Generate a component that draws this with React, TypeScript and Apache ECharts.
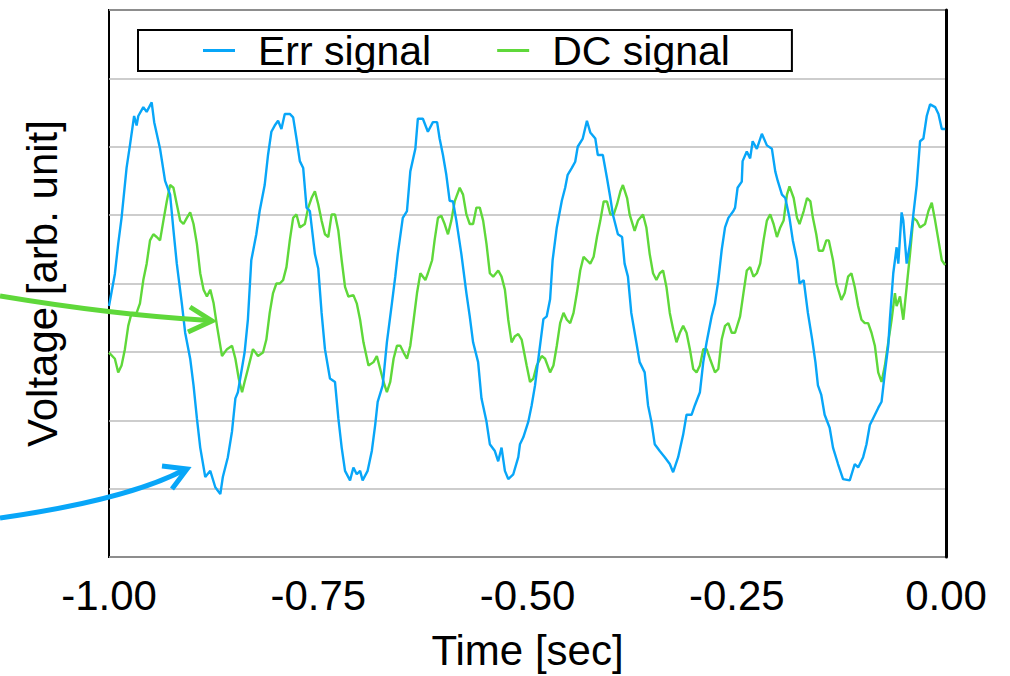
import React, { useEffect, useRef } from "react";
import * as echarts from "echarts";

// Time axis ticks
const xTicks = [-1.0, -0.75, -0.5, -0.25, 0.0];

// Err signal (blue): time [sec]
const errT = [
  -1.000, -0.993, -0.989, -0.985, -0.979, -0.975, -0.970, -0.967, -0.965, -0.959, -0.955, -0.949, -0.946, -0.939, -0.933, -0.927, -0.923, -0.919, -0.913, -0.909,
  -0.903, -0.899, -0.895, -0.891, -0.885, -0.879, -0.873, -0.867, -0.864, -0.858, -0.853, -0.849, -0.846, -0.838, -0.834, -0.830, -0.824, -0.820, -0.814, -0.810,
  -0.806, -0.802, -0.798, -0.794, -0.790, -0.784, -0.780, -0.776, -0.772, -0.768, -0.764, -0.760, -0.754, -0.750, -0.746, -0.742, -0.736, -0.730, -0.726, -0.722,
  -0.718, -0.712, -0.708, -0.704, -0.700, -0.697, -0.691, -0.686, -0.682, -0.679, -0.673, -0.668, -0.662, -0.658, -0.655, -0.649, -0.644, -0.640, -0.634, -0.631,
  -0.625, -0.619, -0.613, -0.608, -0.605, -0.601, -0.597, -0.593, -0.589, -0.585, -0.579, -0.573, -0.569, -0.565, -0.559, -0.555, -0.549, -0.545, -0.539, -0.535,
  -0.531, -0.527, -0.523, -0.517, -0.511, -0.509, -0.505, -0.499, -0.495, -0.491, -0.487, -0.481, -0.477, -0.473, -0.470, -0.465, -0.459, -0.455, -0.452, -0.447,
  -0.443, -0.440, -0.434, -0.429, -0.425, -0.419, -0.416, -0.410, -0.405, -0.401, -0.398, -0.392, -0.387, -0.384, -0.380, -0.376, -0.370, -0.366, -0.360, -0.356,
  -0.352, -0.348, -0.342, -0.336, -0.330, -0.326, -0.320, -0.314, -0.310, -0.304, -0.300, -0.294, -0.290, -0.286, -0.280, -0.276, -0.272, -0.268, -0.264, -0.260,
  -0.254, -0.252, -0.249, -0.244, -0.243, -0.238, -0.234, -0.231, -0.226, -0.220, -0.214, -0.208, -0.204, -0.201, -0.196, -0.192, -0.187, -0.183, -0.178, -0.175,
  -0.170, -0.165, -0.160, -0.156, -0.153, -0.149, -0.145, -0.139, -0.135, -0.129, -0.123, -0.115, -0.109, -0.105, -0.099, -0.095, -0.091, -0.087, -0.081, -0.077,
  -0.073, -0.069, -0.067, -0.063, -0.059, -0.057, -0.053, -0.051, -0.047, -0.043, -0.039, -0.035, -0.031, -0.027, -0.023, -0.019, -0.013, -0.009, -0.005, -0.001,
];
// Err signal (blue): voltage [arb. unit]
const errV = [
  3.67, 4.14, 4.58, 4.96, 5.69, 6.02, 6.45, 6.31, 6.45, 6.58, 6.51, 6.65, 6.36, 5.97, 5.50, 5.30, 4.78, 4.29, 3.71, 3.28,
  2.90, 2.51, 2.03, 1.60, 1.17, 1.26, 1.02, 0.92, 1.17, 1.46, 1.84, 2.32, 2.41, 2.99, 3.48, 4.34, 4.72, 5.06, 5.44, 5.88,
  6.22, 6.31, 6.38, 6.26, 6.48, 6.48, 6.43, 6.12, 5.79, 5.69, 5.11, 5.06, 4.43, 4.22, 3.57, 3.04, 2.61, 2.56, 2.03, 1.60,
  1.26, 1.12, 1.31, 1.21, 1.26, 1.12, 1.26, 1.55, 1.93, 2.27, 2.51, 3.14, 3.71, 4.10, 4.43, 4.96, 5.06, 5.64, 5.97, 6.41,
  6.41, 6.22, 6.36, 6.36, 6.12, 5.88, 5.59, 5.21, 5.20, 4.92, 4.43, 3.86, 3.52, 3.14, 2.85, 2.32, 1.98, 1.65, 1.55, 1.40,
  1.60, 1.26, 1.14, 1.21, 1.46, 1.65, 1.75, 1.98, 2.22, 2.51, 2.90, 3.48, 3.52, 3.77, 4.34, 4.82, 5.21, 5.40, 5.59, 5.69,
  5.78, 6.00, 6.12, 6.38, 6.21, 6.12, 5.88, 5.88, 5.54, 5.25, 5.01, 4.72, 4.68, 4.29, 4.10, 3.57, 3.14, 2.85, 2.70, 2.22,
  1.98, 1.65, 1.55, 1.46, 1.36, 1.24, 1.46, 1.79, 2.08, 2.08, 2.22, 2.41, 2.85, 3.14, 3.52, 3.71, 4.05, 4.49, 4.82, 4.96,
  5.06, 5.11, 5.40, 5.49, 5.79, 5.93, 5.83, 6.08, 5.97, 6.19, 6.02, 5.97, 5.64, 5.50, 5.30, 5.25, 4.96, 4.63, 4.34, 4.00,
  4.05, 3.57, 3.19, 2.85, 2.51, 2.37, 2.08, 1.89, 1.60, 1.36, 1.14, 1.12, 1.36, 1.31, 1.46, 1.65, 1.93, 2.03, 2.18, 2.27,
  2.70, 3.09, 3.48, 4.15, 4.53, 4.29, 5.04, 4.92, 4.29, 4.58, 5.01, 5.44, 6.08, 6.12, 6.45, 6.62, 6.58, 6.48, 6.26, 6.26,
];

// DC signal (green): time [sec]
const dcT = [
  -1.000, -0.993, -0.989, -0.985, -0.981, -0.977, -0.973, -0.967, -0.963, -0.959, -0.955, -0.951, -0.947, -0.943, -0.939, -0.935, -0.931, -0.927, -0.923, -0.919,
  -0.915, -0.911, -0.907, -0.903, -0.899, -0.895, -0.891, -0.887, -0.883, -0.879, -0.875, -0.871, -0.865, -0.859, -0.853, -0.849, -0.845, -0.841, -0.838, -0.834,
  -0.828, -0.822, -0.816, -0.812, -0.808, -0.804, -0.800, -0.796, -0.792, -0.788, -0.784, -0.780, -0.776, -0.772, -0.766, -0.762, -0.758, -0.754, -0.750, -0.746,
  -0.742, -0.738, -0.734, -0.730, -0.726, -0.722, -0.718, -0.714, -0.708, -0.704, -0.700, -0.696, -0.690, -0.684, -0.680, -0.676, -0.672, -0.668, -0.664, -0.660,
  -0.656, -0.652, -0.648, -0.644, -0.640, -0.636, -0.632, -0.628, -0.622, -0.619, -0.614, -0.611, -0.607, -0.603, -0.599, -0.595, -0.591, -0.587, -0.581, -0.577,
  -0.573, -0.569, -0.565, -0.561, -0.557, -0.553, -0.549, -0.545, -0.541, -0.535, -0.531, -0.527, -0.523, -0.519, -0.515, -0.511, -0.507, -0.501, -0.497, -0.493,
  -0.489, -0.483, -0.479, -0.473, -0.469, -0.465, -0.461, -0.457, -0.453, -0.449, -0.445, -0.441, -0.437, -0.433, -0.429, -0.425, -0.421, -0.417, -0.413, -0.409,
  -0.405, -0.401, -0.397, -0.393, -0.389, -0.386, -0.381, -0.378, -0.372, -0.368, -0.362, -0.358, -0.354, -0.350, -0.346, -0.342, -0.338, -0.334, -0.330, -0.326,
  -0.322, -0.318, -0.314, -0.310, -0.306, -0.302, -0.298, -0.294, -0.290, -0.286, -0.282, -0.276, -0.272, -0.268, -0.264, -0.260, -0.256, -0.252, -0.246, -0.242,
  -0.238, -0.234, -0.230, -0.226, -0.222, -0.218, -0.214, -0.210, -0.206, -0.202, -0.198, -0.194, -0.190, -0.187, -0.182, -0.178, -0.175, -0.170, -0.166, -0.162,
  -0.159, -0.155, -0.152, -0.147, -0.143, -0.140, -0.135, -0.131, -0.125, -0.121, -0.117, -0.113, -0.109, -0.105, -0.101, -0.097, -0.093, -0.089, -0.085, -0.081,
  -0.077, -0.073, -0.069, -0.065, -0.061, -0.059, -0.055, -0.051, -0.047, -0.043, -0.039, -0.035, -0.031, -0.025, -0.021, -0.017, -0.013, -0.009, -0.005, -0.001,
];
// DC signal (green): voltage [arb. unit]
const dcV = [
  2.99, 2.90, 2.70, 2.80, 3.04, 3.38, 3.57, 3.57, 3.71, 4.05, 4.29, 4.63, 4.72, 4.68, 4.63, 4.92, 5.20, 5.44, 5.40, 5.16,
  4.92, 4.87, 4.96, 5.04, 4.87, 4.58, 4.15, 3.91, 3.81, 3.91, 3.71, 3.38, 2.94, 3.04, 3.09, 2.90, 2.61, 2.41, 2.56, 2.75,
  3.04, 2.94, 2.99, 3.18, 3.57, 3.86, 4.00, 4.00, 4.05, 4.24, 4.63, 4.96, 5.01, 4.82, 4.87, 5.11, 5.25, 5.35, 5.16, 4.92,
  4.72, 4.68, 5.01, 5.01, 4.77, 4.34, 3.95, 3.81, 3.83, 3.71, 3.47, 3.14, 2.80, 2.85, 2.94, 2.75, 2.56, 2.41, 2.56, 2.90,
  3.09, 3.09, 2.99, 2.90, 3.09, 3.47, 3.86, 4.15, 4.05, 4.15, 4.34, 4.63, 4.96, 4.99, 4.87, 4.72, 4.92, 5.20, 5.40, 5.30,
  5.01, 4.87, 4.87, 5.11, 5.11, 4.92, 4.58, 4.15, 4.10, 4.19, 4.10, 3.91, 3.47, 3.14, 3.23, 3.26, 3.18, 2.80, 2.56, 2.61,
  2.80, 2.94, 2.90, 2.70, 2.80, 3.09, 3.42, 3.57, 3.47, 3.42, 3.57, 3.86, 4.19, 4.39, 4.34, 4.29, 4.39, 4.68, 4.92, 5.20,
  5.20, 5.01, 5.01, 5.16, 5.35, 5.44, 5.25, 5.01, 4.77, 4.92, 5.01, 4.82, 4.43, 4.15, 4.05, 4.15, 4.19, 3.95, 3.57, 3.33,
  3.14, 3.28, 3.38, 3.28, 3.04, 2.75, 2.70, 2.80, 3.04, 3.04, 2.90, 2.70, 2.75, 3.18, 3.38, 3.42, 3.28, 3.28, 3.52, 3.86,
  4.19, 4.24, 4.10, 4.15, 4.29, 4.63, 4.92, 5.01, 4.87, 4.68, 4.82, 4.92, 5.30, 5.42, 5.25, 4.96, 4.87, 5.06, 5.25, 5.20,
  4.96, 4.72, 4.48, 4.48, 4.63, 4.63, 4.34, 4.00, 3.76, 3.86, 4.10, 4.15, 3.95, 3.67, 3.47, 3.42, 3.42, 3.28, 3.09, 2.70,
  2.56, 2.80, 3.14, 3.47, 3.86, 3.67, 3.81, 3.47, 3.95, 4.43, 4.96, 4.92, 4.82, 4.87, 5.06, 5.18, 4.92, 4.63, 4.34, 4.27,
];

const seriesNames = ["Err signal", "DC signal"];
const BLUE = "#08a6f8";
const GREEN = "#5fd83a";
const FONT = "'Liberation Sans', Arial, sans-serif";
const FS = 42;

export default function App() {
  const ref = useRef<HTMLDivElement>(null);
  useEffect(() => {
    if (!ref.current) return;
    const chart = echarts.init(ref.current, undefined, { renderer: "svg" });
    const errData = errT.map((t, i) => [t, errV[i]]);
    const dcData = dcT.map((t, i) => [t, dcV[i]]);
    chart.setOption({
      animation: false,
      backgroundColor: "#fff",
      textStyle: { fontFamily: FONT },
      grid: {
        left: 109,
        right: 64,
        top: 10,
        bottom: 112,
        show: true,
        borderColor: "#000",
        borderWidth: 2,
        backgroundColor: "transparent",
      },
      legend: {
        data: seriesNames,
        left: 138,
        top: 30,
        orient: "horizontal",
        icon: "rect",
        itemWidth: 32,
        itemHeight: 3,
        itemGap: 66,
        padding: [0, 62, 0, 65],
        borderColor: "#000",
        borderWidth: 2,
        backgroundColor: "#fff",
        textStyle: { fontSize: 41, color: "#000", fontFamily: FONT, padding: [0, 0, 0, 18] },
      },
      xAxis: {
        type: "value",
        min: xTicks[0],
        max: xTicks[xTicks.length - 1],
        interval: 0.25,
        axisLine: { show: false },
        axisTick: { show: false },
        splitLine: { show: false },
        axisLabel: {
          fontSize: FS,
          color: "#000",
          margin: 17,
          fontFamily: FONT,
          formatter: (v: number) => v.toFixed(2),
          showMinLabel: true,
          showMaxLabel: true,
        },
        name: "Time [sec]",
        nameLocation: "middle",
        nameGap: 72,
        nameTextStyle: { fontSize: FS, color: "#000", fontFamily: FONT },
      },
      yAxis: {
        type: "value",
        min: 0,
        max: 8,
        interval: 1,
        axisLine: { show: true, lineStyle: { color: "#000", width: 3 } },
        axisTick: { show: false },
        axisLabel: { show: false },
        splitLine: { show: true, lineStyle: { color: "#bdbdbd", width: 1.5 } },
        name: "Voltage [arb. unit]",
        nameLocation: "middle",
        nameGap: 46,
        nameTextStyle: { fontSize: FS, color: "#000", fontFamily: FONT },
      },
      series: [
        {
          name: seriesNames[1],
          type: "line",
          data: dcData,
          showSymbol: false,
          symbol: "none",
          color: GREEN,
          lineStyle: { color: GREEN, width: 2.4 },
          z: 2,
        },
        {
          name: seriesNames[0],
          type: "line",
          data: errData,
          showSymbol: false,
          symbol: "none",
          color: BLUE,
          lineStyle: { color: BLUE, width: 2.4 },
          z: 3,
        },
      ],
      graphic: [
        {
          type: "bezierCurve",
          z: 100,
          shape: { x1: 0, y1: 296, x2: 209, y2: 320.5, cpx1: 114, cpy1: 315 },
          style: { stroke: GREEN, lineWidth: 5, fill: "none" },
        },
        {
          type: "polyline",
          z: 100,
          shape: { points: [[190, 307], [212, 321], [188, 332]] },
          style: { stroke: GREEN, lineWidth: 5, fill: "none" },
        },
        {
          type: "bezierCurve",
          z: 100,
          shape: { x1: 0, y1: 518, x2: 185, y2: 469.5, cpx1: 127, cpy1: 500 },
          style: { stroke: BLUE, lineWidth: 5, fill: "none" },
        },
        {
          type: "polyline",
          z: 100,
          shape: { points: [[162, 466], [187, 469], [172, 489]] },
          style: { stroke: BLUE, lineWidth: 5, fill: "none" },
        },
      ],
    });
    return () => chart.dispose();
  }, []);
  return (
    <div
      ref={ref}
      style={{ position: "absolute", left: 0, top: 0, width: 1010, height: 676 }}
    />
  );
}
